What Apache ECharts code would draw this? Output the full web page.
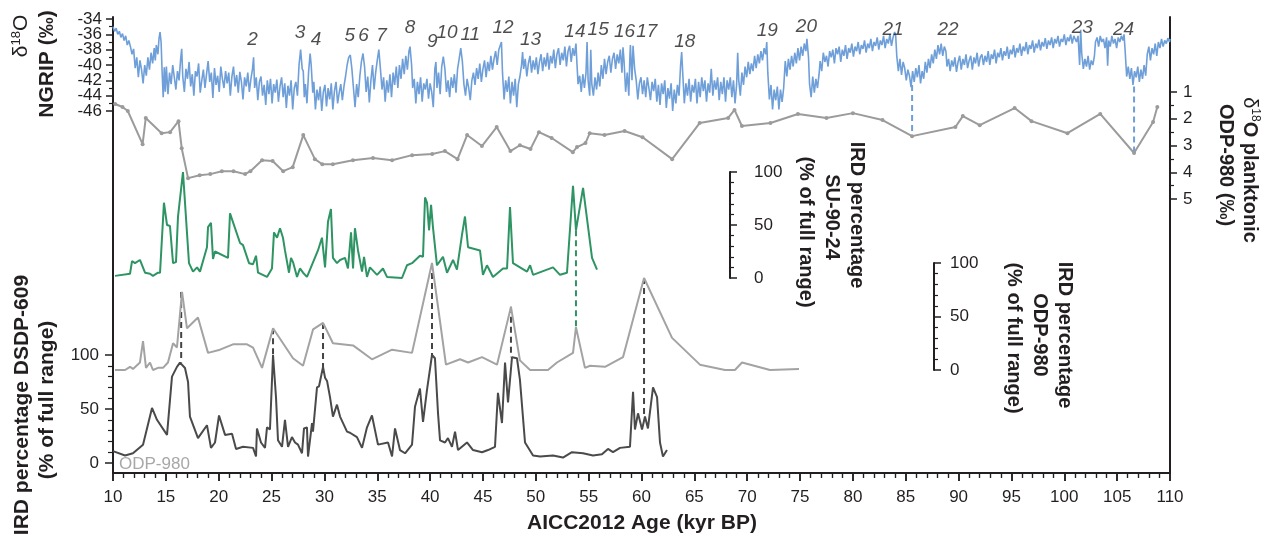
<!DOCTYPE html>
<html>
<head>
<meta charset="utf-8">
<script src="https://cdn.jsdelivr.net/npm/echarts@6/dist/echarts.min.js"></script>
<style>
  html, body { margin: 0; padding: 0; background: #fff; }
  #chart { width: 1262px; height: 543px; }
</style>
</head>
<body>
<div id="chart"></div>
<script>
// age axis (kyr BP)
const ageMin = 10, ageMax = 110, ageStep = 5;

// NGRIP d18O (permil) [age, value]
const ngrip = [
  [10.0,-35.0],[10.15,-35.6],[10.3,-35.2],[10.45,-36.0],[10.6,-35.6],[10.75,-36.4],[10.9,-35.9],[11.05,-36.8],[11.2,-36.2],[11.35,-37.4],
  [11.5,-36.8],[11.65,-37.6],[11.8,-38.6],[11.95,-37.9],[12.1,-40.4],[12.25,-39.0],[12.4,-41.6],[12.55,-39.4],[12.7,-40.6],[12.85,-42.4],
  [13.0,-40.0],[13.15,-41.4],[13.3,-39.0],[13.45,-40.6],[13.6,-38.4],[13.75,-39.8],[13.9,-37.8],[14.0,-39.4],[14.1,-37.4],[14.25,-38.6],
  [14.35,-36.6],[14.45,-35.7],[14.55,-37.0],[14.65,-41.0],[14.75,-44.2],[14.85,-40.3],[14.95,-43.5],
  [15.05,-40.2],[15.2,-43.8],[15.35,-41.0],[15.5,-42.5],[15.65,-40.0],[15.8,-41.6],[15.95,-43.2],[16.1,-40.8],[16.25,-42.0],[16.4,-39.2],
  [16.5,-37.9],[16.6,-41.5],[16.75,-43.5],[16.9,-40.5],[17.05,-41.8],[17.2,-39.6],[17.35,-42.8],[17.5,-41.2],[17.65,-44.0],[17.8,-40.8],
  [17.95,-41.5],[18.1,-39.8],[18.25,-43.6],[18.4,-42.0],[18.55,-40.6],[18.7,-43.0],[18.85,-41.2],[19.0,-39.5],[19.15,-42.2],[19.3,-41.0],
  [19.45,-44.3],[19.6,-40.4],[19.75,-42.6],[19.9,-41.4],[20.05,-43.5],[20.2,-40.2],[20.35,-41.8],[20.5,-43.0],[20.65,-40.8],[20.8,-42.4],
  [20.95,-41.0],[21.1,-44.0],[21.25,-41.5],[21.4,-40.2],[21.55,-42.8],[21.7,-41.3],[21.85,-43.6],[22.0,-40.9],[22.15,-42.2],[22.3,-44.5],
  [22.45,-41.6],[22.6,-42.8],[22.75,-41.0],[22.9,-43.5],[23.05,-41.8],[23.2,-40.5],[23.3,-39.0],[23.4,-43.0],[23.55,-41.6],[23.7,-44.6],
  [23.85,-42.2],[24.0,-41.5],[24.15,-44.0],[24.3,-42.6],[24.45,-45.2],[24.6,-42.0],[24.75,-43.8],[24.9,-41.8],[25.05,-45.0],[25.2,-42.5],
  [25.35,-43.6],[25.5,-41.9],[25.65,-44.8],[25.8,-42.8],[25.95,-41.6],[26.1,-44.2],[26.25,-42.4],[26.4,-45.6],[26.55,-42.7],[26.7,-44.0],
  [26.85,-42.0],[27.0,-45.8],[27.15,-43.0],[27.3,-42.2],[27.45,-44.0],[27.6,-40.0],[27.75,-38.0],[27.9,-40.5],[28.0,-40.8],[28.1,-44.2],
  [28.2,-42.5],[28.35,-45.0],[28.5,-41.0],[28.65,-38.5],[28.75,-40.0],[28.9,-43.6],[29.0,-42.2],[29.15,-45.8],[29.3,-43.2],[29.45,-44.6],
  [29.6,-42.8],[29.75,-46.0],[29.9,-43.5],[30.05,-42.6],[30.2,-45.4],[30.35,-43.0],[30.5,-44.5],[30.65,-42.4],[30.8,-45.8],[30.95,-43.4],
  [31.1,-42.2],[31.25,-45.0],[31.4,-43.6],[31.55,-42.5],[31.7,-44.6],[31.85,-42.8],[32.0,-41.5],[32.15,-40.0],[32.3,-39.0],[32.45,-38.7],
  [32.6,-40.5],[32.75,-43.0],[32.9,-45.5],[33.05,-42.5],[33.2,-44.2],[33.35,-41.5],[33.5,-39.6],[33.65,-38.5],[33.8,-40.2],[33.95,-43.5],
  [34.1,-41.5],[34.25,-44.9],[34.4,-42.0],[34.55,-40.0],[34.7,-43.2],[34.85,-41.0],[35.0,-39.4],[35.15,-38.0],[35.3,-40.5],[35.45,-43.2],
  [35.6,-41.6],[35.75,-44.8],[35.9,-42.0],[36.05,-43.6],[36.2,-41.2],[36.35,-44.2],[36.5,-41.0],[36.65,-42.6],[36.8,-40.2],[36.95,-43.0],
  [37.1,-40.0],[37.25,-41.8],[37.4,-39.2],[37.55,-41.2],[37.7,-38.8],[37.85,-40.6],[38.0,-38.2],[38.1,-37.6],[38.25,-40.0],[38.35,-43.0],
  [38.5,-41.8],[38.65,-45.0],[38.8,-42.2],[38.95,-43.8],[39.1,-41.6],[39.25,-44.8],[39.4,-42.4],[39.55,-43.2],[39.7,-41.8],[39.85,-44.4],
  [40.0,-42.4],[40.15,-43.5],[40.3,-45.5],[40.45,-40.5],[40.55,-39.6],[40.65,-43.0],[40.8,-41.0],[40.95,-43.8],[41.1,-40.2],[41.25,-38.9],
  [41.4,-40.5],[41.55,-43.5],[41.7,-42.0],[41.85,-44.2],[42.0,-41.6],[42.15,-43.0],[42.3,-41.2],[42.45,-43.6],[42.6,-40.5],[42.75,-39.2],
  [42.9,-37.8],[43.05,-39.5],[43.2,-42.5],[43.35,-44.0],[43.5,-41.8],[43.65,-43.0],[43.8,-44.6],[43.95,-42.0],[44.1,-41.0],[44.25,-42.6],
  [44.4,-40.4],[44.55,-41.8],[44.7,-39.8],[44.85,-42.2],[45.0,-40.5],[45.15,-39.4],[45.3,-41.6],[45.45,-39.6],[45.6,-40.8],[45.75,-38.8],
  [45.9,-40.6],[46.05,-39.2],[46.2,-38.2],[46.35,-40.0],[46.5,-38.0],[46.65,-37.4],[46.75,-37.0],[46.85,-41.0],[47.0,-44.5],[47.15,-42.0],
  [47.3,-43.5],[47.45,-41.5],[47.6,-45.0],[47.75,-42.2],[47.9,-44.0],[48.05,-41.8],[48.2,-45.5],[48.35,-42.5],[48.5,-41.5],[48.65,-40.0],
  [48.75,-38.3],[48.85,-40.5],[49.0,-39.2],[49.15,-41.5],[49.3,-39.8],[49.45,-38.8],[49.6,-41.0],[49.75,-39.4],[49.9,-40.6],[50.05,-39.0],
  [50.2,-41.2],[50.35,-39.6],[50.5,-38.6],[50.65,-40.8],[50.8,-39.0],[50.95,-40.2],[51.1,-38.4],[51.25,-40.6],[51.4,-38.8],[51.55,-39.8],
  [51.7,-38.0],[51.85,-40.4],[52.0,-38.6],[52.15,-37.8],[52.3,-40.0],[52.45,-38.4],[52.6,-39.4],[52.75,-37.6],[52.9,-40.2],[53.05,-38.2],
  [53.2,-37.5],[53.35,-39.6],[53.5,-37.8],[53.65,-38.8],[53.8,-37.2],[53.9,-40.0],[54.0,-42.5],[54.15,-41.4],[54.3,-43.5],[54.45,-41.2],
  [54.6,-43.0],[54.75,-41.0],[54.85,-37.0],[54.95,-42.0],[55.1,-44.0],[55.2,-38.0],[55.3,-42.5],[55.45,-44.0],[55.6,-41.6],[55.75,-43.2],
  [55.9,-41.0],[56.05,-42.8],[56.2,-40.0],[56.35,-41.8],[56.5,-39.2],[56.65,-41.2],[56.8,-39.6],[56.95,-38.8],[57.1,-41.0],[57.25,-39.2],
  [57.4,-38.4],[57.55,-40.5],[57.7,-38.6],[57.85,-39.8],[58.0,-38.0],[58.15,-41.0],[58.25,-37.7],[58.35,-39.5],[58.5,-43.5],[58.65,-41.0],
  [58.8,-44.0],[58.9,-39.0],[58.95,-37.4],[59.1,-42.0],[59.2,-37.5],[59.35,-40.5],[59.5,-42.0],[59.65,-44.5],[59.8,-42.4],[59.95,-41.6],
  [60.1,-43.8],[60.25,-42.0],[60.4,-44.2],[60.55,-41.6],[60.7,-43.0],[60.85,-44.6],[61.0,-42.2],[61.15,-43.4],[61.3,-41.8],[61.45,-44.8],
  [61.6,-42.6],[61.75,-45.2],[61.9,-42.4],[62.05,-43.8],[62.2,-42.0],[62.35,-45.6],[62.5,-43.0],[62.65,-44.4],[62.8,-42.4],[62.95,-46.0],
  [63.1,-43.2],[63.25,-45.0],[63.4,-42.6],[63.55,-44.0],[63.7,-40.0],[63.8,-38.3],[63.9,-41.0],[64.05,-45.0],[64.2,-42.4],[64.35,-44.0],
  [64.5,-41.8],[64.65,-44.8],[64.8,-42.6],[64.95,-43.6],[65.1,-41.8],[65.25,-45.0],[65.4,-42.2],[65.55,-44.2],[65.7,-41.6],[65.85,-43.4],
  [66.0,-42.0],[66.15,-44.8],[66.3,-42.4],[66.45,-43.6],[66.6,-40.5],[66.75,-44.0],[66.9,-42.0],[67.05,-43.2],[67.2,-41.6],[67.35,-44.6],
  [67.5,-42.2],[67.65,-43.8],[67.8,-41.6],[67.95,-44.8],[68.1,-42.0],[68.25,-43.2],[68.4,-41.6],[68.55,-44.2],[68.7,-42.0],[68.85,-45.0],
  [69.0,-42.5],[69.1,-38.4],[69.2,-42.0],[69.35,-44.0],[69.5,-41.0],[69.65,-42.6],[69.8,-40.2],[69.95,-41.6],[70.1,-39.6],[70.25,-41.2],
  [70.4,-39.8],[70.55,-40.8],[70.7,-38.8],[70.85,-40.4],[71.0,-38.6],[71.15,-39.8],[71.3,-38.2],[71.45,-39.4],[71.6,-37.8],[71.75,-38.6],
  [71.85,-37.0],[71.95,-41.0],[72.1,-44.5],[72.25,-42.6],[72.4,-45.8],[72.55,-43.2],[72.7,-44.6],[72.85,-42.8],[73.0,-45.8],[73.15,-43.2],
  [73.3,-44.8],[73.45,-43.0],[73.6,-39.5],[73.75,-41.5],[73.9,-39.2],[74.05,-40.6],[74.2,-38.8],[74.35,-40.2],[74.5,-38.4],[74.65,-39.8],
  [74.8,-37.8],[74.95,-39.4],[75.1,-37.6],[75.25,-38.8],[75.4,-37.2],[75.55,-38.2],[75.65,-36.6],[75.72,-36.4],[75.8,-39.0],[75.9,-42.5],
  [76.05,-44.2],[76.2,-41.5],[76.35,-43.6],[76.5,-41.8],[76.65,-43.0],[76.8,-41.2],[76.9,-39.5],[77.05,-40.8],[77.2,-38.4],[77.35,-39.6],
  [77.5,-38.8],[77.65,-40.2],[77.8,-38.2],[77.95,-39.0],[78.1,-38.0],[78.25,-39.8],[78.4,-37.8],[78.55,-38.6],[78.7,-37.6],[78.85,-39.6],
  [79.0,-38.0],[79.15,-38.8],[79.3,-37.4],[79.45,-39.2],[79.6,-37.8],[79.75,-38.4],[79.9,-37.2],[80.05,-38.9],[80.2,-37.6],[80.35,-38.2],
  [80.5,-37.0],[80.65,-38.6],[80.8,-37.4],[80.95,-37.9],[81.1,-36.8],[81.25,-38.4],[81.4,-37.2],[81.55,-37.8],[81.7,-36.6],[81.85,-38.2],
  [82.0,-37.0],[82.15,-37.5],[82.3,-36.4],[82.45,-38.0],[82.6,-36.8],[82.75,-37.4],[82.9,-36.2],[83.05,-37.8],[83.2,-36.6],[83.35,-37.2],
  [83.5,-36.0],[83.65,-37.5],[83.8,-36.4],[83.95,-35.7],[84.05,-36.2],[84.15,-38.8],[84.3,-40.8],[84.45,-39.2],[84.6,-41.3],[84.75,-39.6],
  [84.9,-40.4],[85.05,-42.0],[85.2,-40.6],[85.35,-41.4],[85.5,-42.9],[85.65,-40.8],[85.8,-42.2],[85.95,-40.4],[86.1,-41.6],[86.25,-40.0],
  [86.4,-42.4],[86.55,-40.8],[86.7,-41.8],[86.85,-39.6],[87.0,-41.0],[87.15,-39.2],[87.3,-40.4],[87.45,-38.6],[87.6,-39.8],[87.75,-38.0],
  [87.9,-39.2],[88.05,-37.4],[88.2,-38.6],[88.35,-37.2],[88.5,-38.8],[88.65,-37.6],[88.8,-38.2],[88.9,-40.2],[89.05,-39.2],[89.2,-40.8],
  [89.35,-39.4],[89.5,-40.2],[89.65,-39.0],[89.8,-40.9],[89.95,-39.6],[90.1,-38.8],[90.25,-40.6],[90.4,-39.2],[90.55,-40.0],[90.7,-38.6],
  [90.85,-40.4],[91.0,-39.4],[91.15,-38.8],[91.3,-40.6],[91.45,-39.0],[91.6,-39.8],[91.75,-38.4],[91.9,-40.2],[92.05,-39.0],[92.2,-38.6],
  [92.35,-40.0],[92.5,-38.8],[92.65,-39.6],[92.8,-38.2],[92.95,-40.0],[93.1,-38.6],[93.25,-39.2],[93.4,-38.0],[93.55,-39.8],[93.7,-38.4],
  [93.85,-39.0],[94.0,-37.8],[94.15,-39.4],[94.3,-38.2],[94.45,-38.8],[94.6,-37.6],[94.75,-39.2],[94.9,-38.0],[95.05,-38.6],[95.2,-37.4],
  [95.35,-39.0],[95.5,-37.8],[95.65,-38.4],[95.8,-37.2],[95.95,-38.8],[96.1,-37.6],[96.25,-38.2],[96.4,-37.0],[96.55,-38.6],[96.7,-37.4],
  [96.85,-37.9],[97.0,-36.8],[97.15,-38.4],[97.3,-37.2],[97.45,-37.8],[97.6,-36.7],[97.75,-38.1],[97.9,-37.0],[98.05,-37.6],[98.2,-36.5],
  [98.35,-37.9],[98.5,-36.8],[98.65,-37.4],[98.8,-36.4],[98.95,-37.8],[99.1,-36.6],[99.25,-37.2],[99.4,-36.2],[99.55,-37.6],[99.7,-36.6],
  [99.85,-37.0],[100.0,-36.0],[100.15,-37.4],[100.3,-36.4],[100.45,-36.9],[100.6,-36.0],[100.75,-37.2],[100.9,-36.2],[101.0,-36.0],[101.15,-37.0],
  [101.3,-36.2],[101.45,-40.0],[101.55,-35.4],[101.65,-38.5],[101.8,-40.5],[101.95,-39.2],[102.1,-40.2],[102.25,-38.8],[102.4,-40.6],[102.55,-39.4],
  [102.7,-40.0],[102.85,-38.8],[102.95,-37.0],[103.1,-36.4],[103.25,-37.6],[103.4,-36.2],[103.55,-37.0],[103.7,-36.6],[103.85,-37.8],[104.0,-36.4],
  [104.1,-40.1],[104.2,-36.8],[104.35,-37.6],[104.5,-36.2],[104.65,-37.2],[104.8,-36.6],[104.95,-37.8],[105.1,-36.4],[105.25,-37.0],[105.4,-36.2],
  [105.55,-36.8],[105.65,-36.0],[105.75,-38.0],[105.9,-41.5],[106.05,-40.2],[106.2,-41.8],[106.35,-40.4],[106.5,-42.6],[106.65,-40.8],[106.8,-41.6],
  [106.95,-40.2],[107.1,-42.2],[107.25,-40.6],[107.4,-41.8],[107.55,-40.0],[107.7,-41.4],[107.85,-38.6],[108.0,-37.6],[108.15,-39.4],[108.3,-37.8],
  [108.45,-38.6],[108.6,-37.2],[108.75,-38.8],[108.9,-37.0],[109.05,-37.8],[109.2,-36.6],[109.35,-37.6],[109.5,-36.8],[109.65,-37.2],[109.8,-36.5],
  [109.95,-37.0],[110.0,-36.6]
];

// ODP-980 planktonic d18O (permil) [age, value]
const odpIso = [
  [10.2,1.45],[10.9,1.56],[11.4,1.71],[12.8,2.95],[13.1,1.97],[14.6,2.54],[15.4,2.50],[16.2,2.09],[16.5,3.10],[17.1,4.22],
  [18.2,4.11],[19.2,4.07],[20.3,3.96],[21.4,3.96],[22.5,4.07],[23.0,3.96],[24.1,3.55],[25.1,3.58],[26.1,3.96],[27.0,3.81],
  [28.0,2.61],[29.1,3.51],[29.8,3.70],[30.8,3.70],[32.7,3.55],[34.6,3.47],[36.4,3.55],[38.3,3.36],[40.2,3.32],[41.4,3.21],
  [42.6,3.51],[43.5,2.61],[44.9,3.02],[46.3,2.31],[47.6,3.21],[48.5,2.99],[49.5,3.13],[50.3,2.50],[51.5,2.72],[53.5,3.25],
  [53.9,3.06],[54.7,2.91],[55.1,2.54],[56.5,2.61],[58.4,2.46],[60.1,2.69],[62.9,3.51],[65.5,2.16],[68.2,1.97],[68.8,1.67],
  [69.5,2.27],[72.2,2.16],[74.8,1.82],[77.5,1.97],[80.0,1.79],[82.8,2.05],[85.6,2.65],[89.7,2.31],[90.4,1.90],[92.0,2.24],
  [95.3,1.60],[96.9,2.09],[100.3,2.54],[103.4,1.82],[106.6,3.28],[108.4,2.12],[108.8,1.56]
];

// IRD SU-90-24 (% of full range) [age, value]
const su9024 = [
  [10.19,2],[11.61,4],[11.80,16],[12.08,14],[12.55,17],[13.03,5],[13.50,4],[13.78,2],[14.26,5],[14.45,5],
  [14.82,71],[15.11,50],[15.39,49],[15.68,14],[15.96,15],[16.15,58],[16.62,100],[17.19,14],[17.57,6],[17.95,10],
  [18.23,6],[18.89,29],[18.99,48],[19.27,52],[19.46,18],[19.65,25],[20.88,19],[21.07,61],[22.02,33],[22.30,31],
  [22.87,14],[23.25,13],[23.53,21],[23.72,5],[24.57,1],[25.04,9],[25.23,43],[25.52,38],[25.80,47],[26.08,38],
  [26.27,26],[26.65,5],[26.84,19],[27.03,15],[27.41,1],[27.69,9],[27.98,5],[28.35,1],[28.64,8],[29.39,26],
  [29.77,38],[30.06,10],[30.34,53],[30.62,65],[30.81,19],[31.19,14],[31.48,17],[31.95,19],[32.23,9],[32.52,43],
  [32.71,9],[32.89,47],[33.18,26],[33.56,6],[33.75,20],[34.03,1],[34.31,10],[34.98,3],[35.54,9],[35.92,1],
  [37.34,0],[37.81,12],[38.29,14],[39.04,21],[39.33,20],[39.52,76],[39.71,71],[39.90,45],[40.09,69],[40.27,48],
  [40.65,12],[41.22,20],[41.60,5],[42.17,17],[42.54,8],[43.02,41],[43.30,58],[43.59,29],[44.72,26],[45.00,3],
  [45.38,12],[45.95,1],[46.90,9],[47.28,9],[47.56,67],[47.84,14],[49.17,6],[49.46,12],[49.74,3],[51.63,10],
  [52.29,3],[52.95,5],[53.52,87],[53.80,45],[54.47,85],[55.32,19],[55.79,8]
];

// IRD ODP-980 (% of full range) [age, value]
const odpIrd = [
  [10.19,0],[11.14,0],[11.61,3],[11.89,1],[12.55,7],[12.84,27],[13.12,2],[13.50,7],[13.78,0],[14.26,2],
  [14.73,2],[15.20,7],[15.68,25],[16.05,21],[16.53,73],[17.00,39],[18.04,49],[18.99,16],[20.12,19],[21.35,24],
  [22.68,24],[23.25,21],[24.10,2],[25.14,39],[27.03,11],[27.98,4],[28.93,38],[29.87,44],[30.81,25],[32.71,23],
  [34.50,10],[36.40,19],[38.29,16],[40.18,100],[41.50,5],[42.83,10],[43.59,7],[44.91,12],[46.33,5],[47.65,59],
  [48.50,9],[49.46,0],[51.15,0],[52.00,7],[53.52,16],[53.80,40],[54.65,2],[55.13,4],[56.55,3],[58.25,12],
  [60.24,86],[62.89,30],[65.53,5],[67.90,0],[68.84,0],[69.51,7],[72.16,0],[74.90,1]
];

// IRD DSDP-609 (% of full range) [age, value]
const dsdp609 = [
  [10.00,11],[11.14,7],[11.89,9],[12.84,17],[13.69,51],[14.16,40],[15.11,26],[15.58,80],[16.05,89],[16.34,93],
  [16.81,88],[17.10,75],[17.28,43],[18.04,23],[18.89,35],[19.27,14],[19.65,19],[20.03,44],[20.60,26],[21.26,27],
  [21.64,13],[22.30,15],[23.25,14],[23.53,6],[23.62,32],[24.00,19],[24.38,14],[24.57,33],[24.85,31],[25.14,100],
  [25.42,61],[25.61,21],[25.99,15],[26.27,40],[26.56,15],[26.93,24],[27.22,19],[27.50,17],[27.88,9],[28.07,32],
  [28.35,33],[28.45,6],[28.83,37],[28.92,29],[29.30,70],[29.49,71],[29.87,89],[30.06,79],[30.25,76],[30.53,61],
  [30.81,43],[31.19,54],[31.48,43],[32.14,29],[32.42,28],[33.08,24],[33.56,14],[34.03,33],[34.50,44],[35.07,17],
  [36.02,19],[36.40,6],[36.68,32],[37.15,12],[37.63,9],[38.29,17],[38.57,52],[39.04,69],[39.33,38],[39.71,68],
  [40.18,100],[40.46,97],[40.75,46],[40.94,21],[41.41,19],[41.69,23],[42.07,15],[42.36,29],[42.64,12],[43.49,19],
  [44.06,12],[44.91,10],[45.48,12],[46.14,15],[46.42,65],[46.80,37],[47.09,93],[47.37,56],[47.75,98],[48.22,97],
  [48.50,77],[48.98,19],[49.74,7],[50.40,6],[51.63,7],[52.57,5],[53.42,10],[54.47,9],[55.41,7],[56.26,8],
  [56.83,13],[57.30,10],[57.97,14],[58.91,15],[59.20,66],[59.38,31],[59.67,46],[60.05,31],[60.33,43],[60.61,32],
  [61.09,70],[61.47,61],[61.75,19],[62.03,6],[62.41,12]
];

// Dansgaard-Oeschger event numbers [age, NGRIP level, label]
const events = [
  [23.2,-36.7,'2'],[27.7,-35.8,'3'],[29.2,-36.7,'4'],[32.4,-36.2,'5'],[33.7,-36.2,'6'],[35.4,-36.2,'7'],
  [38.1,-35.2,'8'],[40.2,-37.0,'9'],[41.6,-35.8,'10'],[43.8,-36.0,'11'],[46.9,-35.2,'12'],[49.5,-36.7,'13'],
  [53.7,-35.7,'14'],[55.9,-35.4,'15'],[58.4,-35.7,'16'],[60.5,-35.7,'17'],[64.1,-37.0,'18'],[71.9,-35.5,'19'],
  [75.6,-35.0,'20'],[83.8,-35.4,'21'],[89.0,-35.4,'22'],[101.7,-35.2,'23'],[105.6,-35.4,'24']
];

// NGRIP tick labels
const ngripTicks = [-34, -36, -38, -40, -42, -44, -46];

// dashed tie lines: [age, fromSeries, fromValue, toSeries, toValue, colour]
const ties = [
  [85.6,'ngrip',-42.6,'odpIso',2.65,'#6f9fd8'],
  [106.6,'ngrip',-42.8,'odpIso',3.28,'#6f9fd8'],
  [53.8,'su',45,'odpIrd',40,'#2e9463'],
  [16.45,'odpIrd',73,'dsdp',93,'#444'],
  [25.14,'odpIrd',39,'dsdp',100,'#444'],
  [29.87,'odpIrd',44,'dsdp',89,'#444'],
  [40.18,'odpIrd',100,'dsdp',100,'#444'],
  [47.65,'odpIrd',59,'dsdp',98,'#444'],
  [60.24,'odpIrd',86,'dsdp',43,'#444']
];

const FONT = 'Liberation Sans';
const INK = '#231f20';
const gridIdx = { ngrip: 1, odpIso: 2, su: 3, odpIrd: 4, dsdp: 5 };

const chart = echarts.init(document.getElementById('chart'));

const hiddenX = (g) => ({
  type: 'value', gridIndex: g, min: ageMin, max: ageMax, show: false
});
const tickLabel = { fontFamily: FONT, fontSize: 17, color: INK, showMinLabel: true, showMaxLabel: true };
const tickLine = { color: INK, width: 1.5 };
const minorLine = { color: INK, width: 1.2 };

const option = {
  animation: false,
  grid: [
    { left: 113, right: 92, top: 17, bottom: 70 },
    { left: 113, right: 92, top: 19, height: 92 },
    { left: 113, right: 92, top: 92, height: 107 },
    { left: 113, right: 92, top: 172, height: 106 },
    { left: 113, right: 92, top: 263, height: 107 },
    { left: 113, right: 92, top: 355, height: 108 }
  ],
  xAxis: [
    {
      type: 'value', gridIndex: 0, position: 'bottom', min: ageMin, max: ageMax, interval: ageStep,
      axisLine: { lineStyle: { color: INK, width: 2 } },
      axisTick: { length: 8, lineStyle: tickLine },
      minorTick: { show: true, splitNumber: 5, length: 5, lineStyle: minorLine },
      axisLabel: Object.assign({}, tickLabel, { margin: 16 }),
      splitLine: { show: false }
    },
    {
      type: 'value', gridIndex: 0, position: 'top', min: ageMin, max: ageMax, interval: ageStep,
      axisLine: { lineStyle: { color: INK, width: 2 } },
      axisTick: { inside: true, length: 8, lineStyle: tickLine },
      minorTick: { show: true, splitNumber: 5, length: 5, lineStyle: minorLine },
      axisLabel: { show: false },
      splitLine: { show: false }
    },
    hiddenX(1), hiddenX(2), hiddenX(3), hiddenX(4), hiddenX(5)
  ],
  yAxis: [
    { type: 'value', gridIndex: 0, position: 'left', min: 0, max: 1,
      axisLine: { show: true, lineStyle: { color: INK, width: 2 } },
      axisTick: { show: false }, axisLabel: { show: false }, splitLine: { show: false } },
    { type: 'value', gridIndex: 0, position: 'right', min: 0, max: 1,
      axisLine: { show: true, lineStyle: { color: INK, width: 2 } },
      axisTick: { show: false }, axisLabel: { show: false }, splitLine: { show: false } },
    { // NGRIP: ticks only, labels drawn below from ngripTicks
      type: 'value', gridIndex: 1, position: 'left', min: -46, max: -34, interval: 2,
      axisLine: { show: false },
      axisTick: { length: 7, lineStyle: tickLine },
      minorTick: { show: true, splitNumber: 2, length: 4, lineStyle: minorLine },
      axisLabel: { show: false },
      splitLine: { show: false }
    },
    { // ODP-980 planktonic
      type: 'value', gridIndex: 2, position: 'right', min: 1, max: 5, interval: 1, inverse: true,
      axisLine: { show: false },
      axisTick: { length: 7, lineStyle: tickLine },
      minorTick: { show: true, splitNumber: 2, length: 4, lineStyle: minorLine },
      axisLabel: Object.assign({}, tickLabel, { margin: 13 }),
      splitLine: { show: false }
    },
    { // SU-90-24
      type: 'value', gridIndex: 3, position: 'right', offset: -440, min: 0, max: 100, interval: 50,
      axisLine: { show: true, lineStyle: { color: INK, width: 2 } },
      axisTick: { length: 7, lineStyle: tickLine },
      minorTick: { show: true, splitNumber: 5, length: 4, lineStyle: minorLine },
      axisLabel: Object.assign({}, tickLabel, { margin: 24 }),
      splitLine: { show: false }
    },
    { // ODP-980 IRD
      type: 'value', gridIndex: 4, position: 'right', offset: -236, min: 0, max: 100, interval: 50,
      axisLine: { show: true, lineStyle: { color: INK, width: 2 } },
      axisTick: { length: 7, lineStyle: tickLine },
      minorTick: { show: true, splitNumber: 5, length: 4, lineStyle: minorLine },
      axisLabel: Object.assign({}, tickLabel, { margin: 16 }),
      splitLine: { show: false }
    },
    { // DSDP-609
      type: 'value', gridIndex: 5, position: 'left', min: 0, max: 100, interval: 50,
      axisLine: { show: false },
      axisTick: { length: 8, lineStyle: tickLine },
      minorTick: { show: true, splitNumber: 5, length: 5, lineStyle: minorLine },
      axisLabel: Object.assign({}, tickLabel, { margin: 14 }),
      splitLine: { show: false }
    }
  ],
  series: [
    { name: 'NGRIP', type: 'line', xAxisIndex: 2, yAxisIndex: 2, data: ngrip, symbol: 'none', clip: false,
      lineStyle: { color: '#6f9fd8', width: 1.6 }, z: 3 },
    { name: 'ODP-980 d18O', type: 'line', xAxisIndex: 3, yAxisIndex: 3, data: odpIso, clip: false,
      symbol: 'circle', symbolSize: 4, showSymbol: true,
      itemStyle: { color: '#9b9b9b' }, lineStyle: { color: '#9b9b9b', width: 2 }, z: 3 },
    { name: 'SU-90-24', type: 'line', xAxisIndex: 4, yAxisIndex: 4, data: su9024, symbol: 'none', clip: false,
      lineStyle: { color: '#2e9463', width: 2 }, z: 3 },
    { name: 'ODP-980 IRD', type: 'line', xAxisIndex: 5, yAxisIndex: 5, data: odpIrd, symbol: 'none', clip: false,
      lineStyle: { color: '#a3a3a3', width: 2 }, z: 3 },
    { name: 'DSDP-609', type: 'line', xAxisIndex: 6, yAxisIndex: 6, data: dsdp609, symbol: 'none', clip: false,
      lineStyle: { color: '#4a4a4a', width: 2 }, z: 4 },
    { name: 'events', type: 'scatter', xAxisIndex: 2, yAxisIndex: 2, data: events, symbolSize: 0, silent: true,
      label: { show: true, position: 'inside', formatter: (p) => p.data[2],
        fontFamily: FONT, fontStyle: 'italic', fontSize: 19, color: INK }, z: 5 }
  ]
};

chart.setOption(option);

// axis titles and tie lines
const vText = (x, y, rot, text, size, rich) => ({
  type: 'text', x: x, y: y, rotation: rot, silent: true,
  style: { text: text, rich: rich, align: 'center', verticalAlign: 'middle',
    fontFamily: FONT, fontSize: size, fontWeight: 'bold', fill: INK }
});

const iso = (size) => ({
  d: { fontFamily: FONT, fontSize: size, fontWeight: 'normal', fill: INK },
  s: { fontFamily: FONT, fontSize: Math.round(size * 0.62), fontWeight: 'normal', fill: INK, padding: [0, 0, 10, 0] },
  b: { fontFamily: FONT, fontSize: size, fontWeight: 'bold', fill: INK }
});

const up = Math.PI / 2, down = -Math.PI / 2;
const graphics = [
  vText(21, 36, up, '{d|δ}{s|18}{d|O}', 21, iso(21)),
  vText(47, 64, up, 'NGRIP (‰)', 21),
  vText(1250, 170, down, '{d|δ}{s|18}{b|O planktonic}', 20, iso(20)),
  vText(1226, 165, down, 'ODP-980 (‰)', 20),
  vText(857, 215, down, 'IRD percentage', 20),
  vText(832, 217, down, 'SU-90-24', 20),
  vText(806, 232, down, '(% of full range)', 20),
  vText(1065, 335, down, 'IRD percentage', 20),
  vText(1040, 335, down, 'ODP-980', 20),
  vText(1014, 338, down, '(% of full range)', 20),
  vText(22, 405, up, 'IRD percentage DSDP-609', 21),
  vText(47, 400, up, '(% of full range)', 21),
  { type: 'text', x: 642, y: 523, silent: true,
    style: { text: 'AICC2012 Age (kyr BP)', align: 'center', verticalAlign: 'middle',
      fontFamily: FONT, fontSize: 21, fontWeight: 'bold', fill: INK } },
  { type: 'text', x: 119, y: 464, silent: true,
    style: { text: 'ODP-980', align: 'left', verticalAlign: 'middle',
      fontFamily: FONT, fontSize: 17, fill: '#a8a8a8' } }
];

// NGRIP tick labels placed through the NGRIP axis scale
ngripTicks.forEach((v) => {
  const p = chart.convertToPixel({ gridIndex: 1 }, [ageMin, v]);
  graphics.push({
    type: 'text', x: p[0] - 11, y: p[1], silent: true,
    style: { text: String(v), align: 'right', verticalAlign: 'middle',
      fontFamily: FONT, fontSize: 17, fill: INK }
  });
});

ties.forEach(([age, s1, v1, s2, v2, col]) => {
  const p1 = chart.convertToPixel({ gridIndex: gridIdx[s1] }, [age, v1]);
  const p2 = chart.convertToPixel({ gridIndex: gridIdx[s2] }, [age, v2]);
  graphics.push({
    type: 'line', silent: true, z: 1,
    shape: { x1: p1[0], y1: p1[1], x2: p2[0], y2: p2[1] },
    style: { stroke: col, lineWidth: 2, lineDash: [6, 4] }
  });
});

chart.setOption({ graphic: graphics });
</script>
</body>
</html>
